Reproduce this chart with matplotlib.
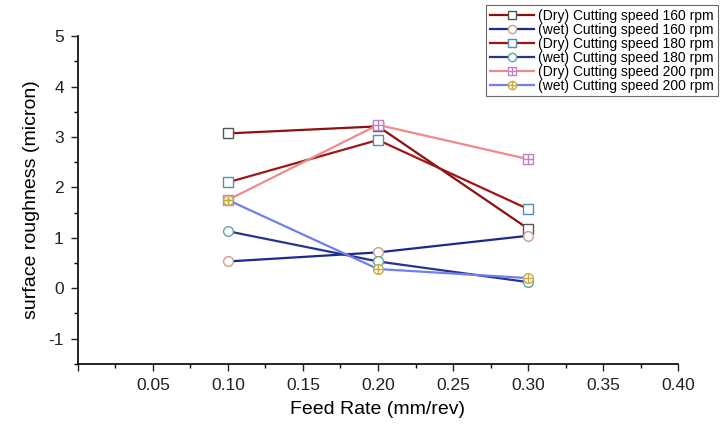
import matplotlib
matplotlib.use("Agg")
import matplotlib.pyplot as plt
import matplotlib.ticker as ticker

plt.rcParams["font.family"] = ["Liberation Sans", "DejaVu Sans"]

# ---------------------------------------------------------------------------
# Data
# ---------------------------------------------------------------------------
feed_rate = [0.10, 0.20, 0.30]

dry_160 = [3.07, 3.21, 1.18]
wet_160 = [0.53, 0.71, 1.04]
dry_180 = [2.10, 2.94, 1.57]
wet_180 = [1.13, 0.53, 0.12]
dry_200 = [1.75, 3.24, 2.56]
wet_200 = [1.75, 0.38, 0.20]

labels = [
    "(Dry) Cutting speed 160 rpm",
    "(wet) Cutting speed 160 rpm",
    "(Dry) Cutting speed 180 rpm",
    "(wet) Cutting speed 180 rpm",
    "(Dry) Cutting speed 200 rpm",
    "(wet) Cutting speed 200 rpm",
]

# (values, line colour, marker, marker edge, overlay '+')
series = [
    (dry_160, "#8b1010", "s", "#555555", False),
    (wet_160, "#1c2a8c", "o", "#d49a8a", False),
    (dry_180, "#a01515", "s", "#4f8fb8", False),
    (wet_180, "#23358f", "o", "#5aa89a", False),
    (dry_200, "#f08a8a", "s", "#c080c8", True),
    (wet_200, "#6f80ee", "o", "#c8aa40", True),
]

fig = plt.figure(figsize=(7.2, 4.25), dpi=100, facecolor="white")
ax = fig.add_axes([0.108, 0.144, 0.834, 0.771])

handles = []
for (vals, col, mk, edge, plus), lab in zip(series, labels):
    (ln,) = ax.plot(feed_rate, vals, color=col, linewidth=1.6, marker=mk,
                    markersize=7, markerfacecolor="white",
                    markeredgecolor=edge, markeredgewidth=1.0, zorder=3)
    if plus:
        (pl,) = ax.plot(feed_rate, vals, linestyle="none", marker="+",
                        markersize=7, markeredgecolor=edge,
                        markeredgewidth=1.0, zorder=4)
        handles.append((ln, pl))
    else:
        handles.append(ln)

ax.set_xlim(0, 0.40)
ax.set_ylim(-1.5, 5)
ax.xaxis.set_major_locator(ticker.MultipleLocator(0.05))
ax.xaxis.set_minor_locator(ticker.MultipleLocator(0.025))
ax.yaxis.set_major_locator(ticker.MultipleLocator(1))
ax.yaxis.set_minor_locator(ticker.MultipleLocator(0.5))
ax.xaxis.set_major_formatter(ticker.FuncFormatter(
    lambda v, p: "" if abs(v) < 1e-9 else f"{v:.2f}"))
ax.yaxis.set_major_formatter(ticker.FuncFormatter(
    lambda v, p: "" if v < -1.2 else f"{v:.0f}"))

for s in ("top", "right"):
    ax.spines[s].set_visible(False)
for s in ("left", "bottom"):
    ax.spines[s].set_linewidth(1.2)

ax.tick_params(which="major", direction="out", length=5, width=1.0,
               labelsize=12.5, colors="#222222", pad=5)
ax.tick_params(which="minor", direction="out", length=3, width=1.0)

ax.set_xlabel("Feed Rate (mm/rev)", fontsize=14, labelpad=6)
ax.set_ylabel("surface roughness (micron)", fontsize=14, labelpad=6)

leg = ax.legend(handles, labels, loc="upper right",
                bbox_to_anchor=(0.997, 0.988), bbox_transform=fig.transFigure,
                fontsize=10, frameon=True, fancybox=False,
                edgecolor="#444444", handlelength=3.2, handletextpad=0.3,
                labelspacing=0.0, borderpad=0.25, borderaxespad=0.0,
                markerscale=0.85)
leg.get_frame().set_linewidth(0.8)

fig.savefig("out.png", dpi=100, facecolor="white")
plt.close(fig)
